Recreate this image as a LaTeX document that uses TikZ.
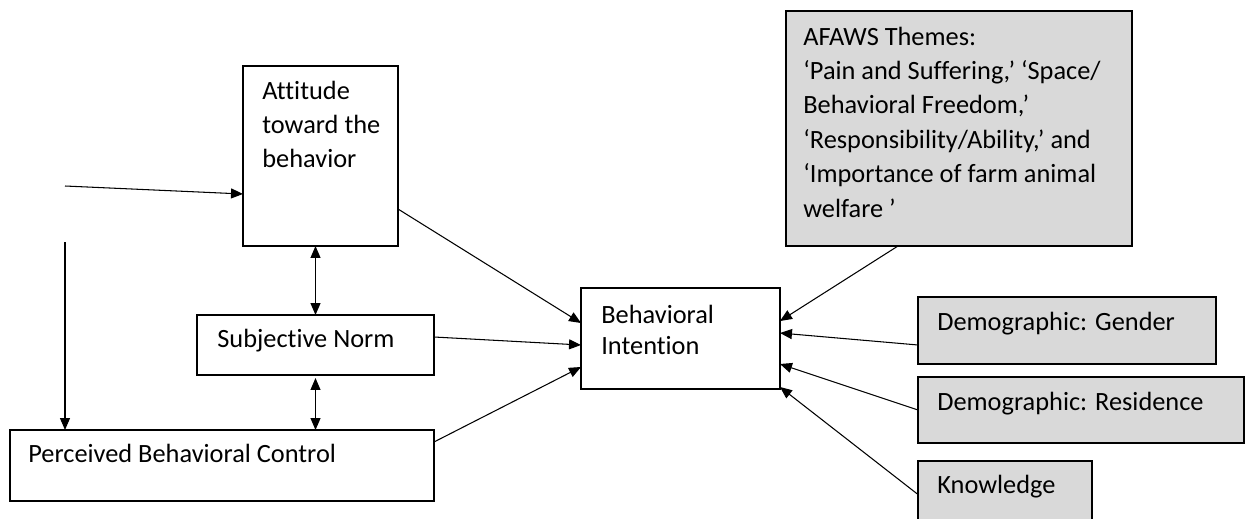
\documentclass[tikz,border=0pt]{standalone}
\usepackage{fontspec}
\setmainfont[Ligatures=NoCommon]{Carlito}
\usetikzlibrary{arrows.meta}
\definecolor{boxgray}{RGB}{217,217,217}

\begin{document}
\begin{tikzpicture}[x=0.02cm, y=-0.02cm,
    >={Triangle[length=2.4mm,width=2mm]},
    box/.style={draw, line width=0.8pt, inner sep=0pt, outer sep=0pt},
    shaded/.style={box, fill=boxgray},
    lbl/.style={anchor=base west, inner sep=0pt, align=left,
        font=\fontsize{15}{19.3}\selectfont},
    link/.style={->, line width=0.6pt}]
    \useasboundingbox (0,0) rectangle (1248,518);

    % Left-hand model (multi-line labels sit on their last baseline)
    \node[box, minimum width=3.1cm, minimum height=3.6cm] (att) at (320.5,156) {};
    \node[lbl] (attT) at (262,167) {Attitude\\toward the\\behavior};
    \node[box, minimum width=4.74cm, minimum height=1.2cm] (sn) at (315.5,345) {};
    \node[lbl] (snT) at (217,347) {Subjective Norm};
    \node[box, minimum width=8.48cm, minimum height=1.42cm] (pbc) at (222,465.5) {};
    \node[lbl] (pbcT) at (28,462) {Perceived Behavioral Control};

    % Intention
    \node[box, minimum width=3.98cm, minimum height=2.02cm] (bi) at (680.5,338.5) {};
    \node[lbl, font=\fontsize{15}{17.6}\selectfont] (biT) at (601,354) {Behavioral\\Intention};

    % Extra predictors
    \node[shaded, minimum width=6.92cm, minimum height=4.7cm] (afaws) at (959,128.5) {};
    \node[lbl, font=\fontsize{15}{19.56}\selectfont] (afawsT) at (803,217) {AFAWS Themes:\\‘Pain and Suffering,’ ‘Space/\\Behavioral Freedom,’\\‘Responsibility/Ability,’ and\\‘Importance of farm animal\\welfare ’};
    \node[shaded, minimum width=5.96cm, minimum height=1.34cm] (gen) at (1067,330.5) {};
    \node[lbl] (genT) at (937,330) {Demographic: Gender};
    \node[shaded, minimum width=6.52cm, minimum height=1.32cm] (res) at (1081,410) {};
    \node[lbl] (resT) at (937,410) {Demographic: Residence};
    \node[shaded, minimum width=3.48cm, minimum height=1.34cm] (know) at (1005,494.5) {};
    \node[lbl] (knowT) at (937,493) {Knowledge};

    % Free arrows on the left
    \coordinate (inA) at (65,186);
    \coordinate (inB) at (65,242);
    \draw[link] (inA) -- ([yshift=-0.76cm]att.west);
    \draw[link] (inB) -- (inB |- pbc.north);

    % Correlations
    \draw[<->, line width=0.6pt] (sn.north) -- (sn.north |- att.south);
    \draw[<->, line width=0.6pt] ([yshift=-0.06cm]sn.south) -- (sn.south |- pbc.north);

    % Into intention
    \draw[link] ([yshift=-1.06cm]att.east) -- ([yshift=0.31cm]bi.west);
    \draw[link] ([yshift=0.16cm]sn.east) -- ([yshift=-0.13cm]bi.west);
    \draw[link] ([yshift=0.47cm]pbc.east) -- ([yshift=-0.57cm]bi.west);
    \draw[link] ([xshift=-1.22cm]afaws.south) -- ([yshift=0.35cm]bi.east);
    \draw[link] ([yshift=-0.29cm]gen.west) -- ([yshift=0.11cm]bi.east);
    \draw[link] (res.west) -- ([yshift=-0.51cm]bi.east);
    \draw[link] (know.west) -- ([yshift=-0.97cm]bi.east);
\end{tikzpicture}
\end{document}
